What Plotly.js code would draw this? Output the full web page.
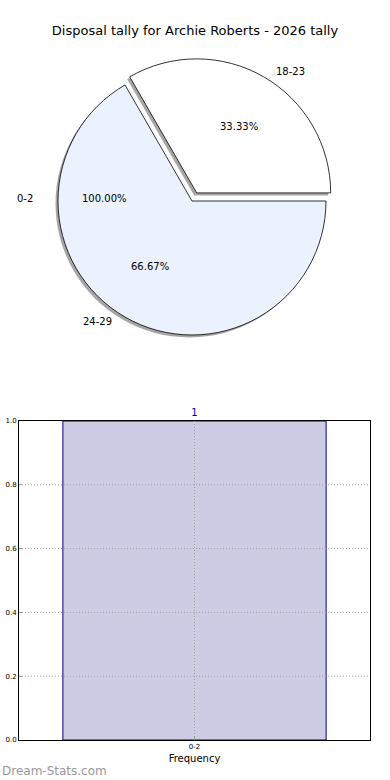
<!DOCTYPE html>
<html>
<head>
<meta charset="utf-8">
<script src="https://cdn.plot.ly/plotly-3.0.1.min.js"></script>
<style>html,body{margin:0;padding:0;background:#fff;}#chart{width:390px;height:780px;}</style>
</head>
<body>
<div id="chart"></div>
<script>
// ---- data ----
const chartTitle = 'Disposal tally for Archie Roberts - 2026 tally';
const pieLabels = ['18-23', '24-29'];
const pieValues = [1, 2];
const piePull = [0.07, 0];
const pieColors = ['#ffffff', '#ebf1fd'];
const extraPieLabel = '0-2';
const extraPiePct = '100.00%';
const barCategories = ['0-2'];
const barValues = [1];
const yTickVals = [0, 0.2, 0.4, 0.6, 0.8, 1.0];
const xAxisTitle = 'Frequency';
const watermark = 'Dream-Stats.com';

// ---- layout helpers (pixels -> paper) ----
const W = 390, H = 780;
const px = x => x / W;
const py = y => 1 - y / H;
const FONT = 'DejaVu Sans, Verdana, sans-serif';

const cx = 192, cy = 201, r = 134;
const half = r * (1 + Math.max(...piePull));
const pieDomain = {x: [px(cx - half), px(cx + half)], y: [py(cy + half), py(cy - half)]};
const shadowDomain = {x: [px(cx - half - 2.5), px(cx + half - 2.5)], y: [py(cy + half + 2.5), py(cy - half + 2.5)]};

// text positions computed from slice angles (counterclockwise from east)
const total = pieValues.reduce((a, b) => a + b, 0);
const rxT = 141, ryT = 127;
const annotations = [];
let start = 0;
pieValues.forEach((v, i) => {
  const frac = v / total;
  const mid = (start + frac / 2) * 2 * Math.PI;
  start += frac;
  const off = piePull[i] * r;
  const ox = cx + off * Math.cos(mid), oy = cy - off * Math.sin(mid);
  const lx = ox + 1.1 * rxT * Math.cos(mid), ly = oy - 1.1 * ryT * Math.sin(mid);
  const tx = ox + 0.6 * rxT * Math.cos(mid), ty = oy - 0.6 * ryT * Math.sin(mid);
  annotations.push({x: px(lx), y: py(ly), xref: 'paper', yref: 'paper', text: pieLabels[i],
    showarrow: false, xanchor: Math.cos(mid) >= 0 ? 'left' : 'right', yanchor: 'middle',
    font: {family: FONT, size: 10, color: '#000'}});
  annotations.push({x: px(tx), y: py(ty), xref: 'paper', yref: 'paper', text: (frac * 100).toFixed(2) + '%',
    showarrow: false, xanchor: 'center', yanchor: 'middle', font: {family: FONT, size: 10, color: '#000'}});
});
// the stray "0-2" label at 180 degrees
annotations.push({x: px(cx - 1.1 * rxT - 2), y: py(cy - 3), xref: 'paper', yref: 'paper', text: extraPieLabel,
  showarrow: false, xanchor: 'right', yanchor: 'middle', font: {family: FONT, size: 10, color: '#000'}});
annotations.push({x: px(cx - 0.6 * rxT - 3), y: py(cy - 3), xref: 'paper', yref: 'paper', text: extraPiePct,
  showarrow: false, xanchor: 'center', yanchor: 'middle', font: {family: FONT, size: 10, color: '#000'}});
annotations.push({x: 0, y: py(771), xref: 'paper', yref: 'paper', text: watermark, showarrow: false,
  xanchor: 'left', yanchor: 'middle', font: {family: FONT, size: 12, color: '#999999'}});

// dotted grid drawn above the bar (as in the reference)
const gridLine = {color: '#a0a0a0', width: 1, dash: '1px,2px'};
const shapes = [];
yTickVals.filter(v => v > 0 && v < 1).forEach(v => shapes.push({
  type: 'line', layer: 'above', xref: 'x domain', yref: 'y', x0: 0, x1: 1, y0: v, y1: v, line: gridLine}));
barCategories.forEach(c => shapes.push({
  type: 'line', layer: 'above', xref: 'x', yref: 'y domain', x0: c, x1: c, y0: 0, y1: 1, line: gridLine}));

const common = {
  type: 'pie', sort: false, direction: 'counterclockwise', rotation: -30,
  textinfo: 'none', hoverinfo: 'label+percent', showlegend: false
};

const traces = [
  Object.assign({}, common, {
    labels: pieLabels, values: pieValues, pull: piePull, domain: shadowDomain,
    marker: {colors: pieValues.map(() => 'rgba(0,0,0,0.35)'), line: {width: 0}}
  }),
  Object.assign({}, common, {
    labels: pieLabels, values: pieValues, pull: piePull, domain: pieDomain,
    marker: {colors: pieColors, line: {color: '#000', width: 0.8}}
  }),
  {
    type: 'bar', x: barCategories, y: barValues, width: 0.75,
    marker: {color: '#ccccE5', line: {color: '#00008b', width: 1}},
    text: barValues.map(String), textposition: 'outside', cliponaxis: false,
    textfont: {family: FONT, size: 10, color: '#0000b0'},
    xaxis: 'x', yaxis: 'y', showlegend: false
  }
];

const layout = {
  width: W, height: H,
  margin: {l: 0, r: 0, t: 0, b: 0},
  paper_bgcolor: '#fff', plot_bgcolor: '#fff',
  font: {family: FONT, color: '#000'},
  title: {text: chartTitle, x: 0.5, xanchor: 'center', y: py(30), yanchor: 'middle',
    font: {family: FONT, size: 13, color: '#000'}},
  xaxis: {
    domain: [px(19), px(370)], anchor: 'y', type: 'category', range: [-0.5, 0.5],
    showline: true, mirror: true, linecolor: '#000', linewidth: 1,
    showgrid: false, layer: 'above traces',
    ticks: 'inside', ticklen: 3, tickcolor: '#999', zeroline: false,
    tickfont: {family: FONT, size: 7, color: '#000'},
    title: {text: xAxisTitle, font: {family: FONT, size: 10, color: '#000'}, standoff: 4}
  },
  yaxis: {
    domain: [py(740), py(421)], anchor: 'x', range: [0, 1],
    tickvals: yTickVals, tickformat: '.1f',
    showline: true, mirror: true, linecolor: '#000', linewidth: 1,
    showgrid: false, layer: 'above traces',
    ticks: 'inside', ticklen: 3, tickcolor: '#999', zeroline: false,
    tickfont: {family: FONT, size: 7, color: '#000'}
  },
  shapes: shapes,
  annotations: annotations
};

Plotly.newPlot('chart', traces, layout, {displayModeBar: false, staticPlot: true});
</script>
</body>
</html>
